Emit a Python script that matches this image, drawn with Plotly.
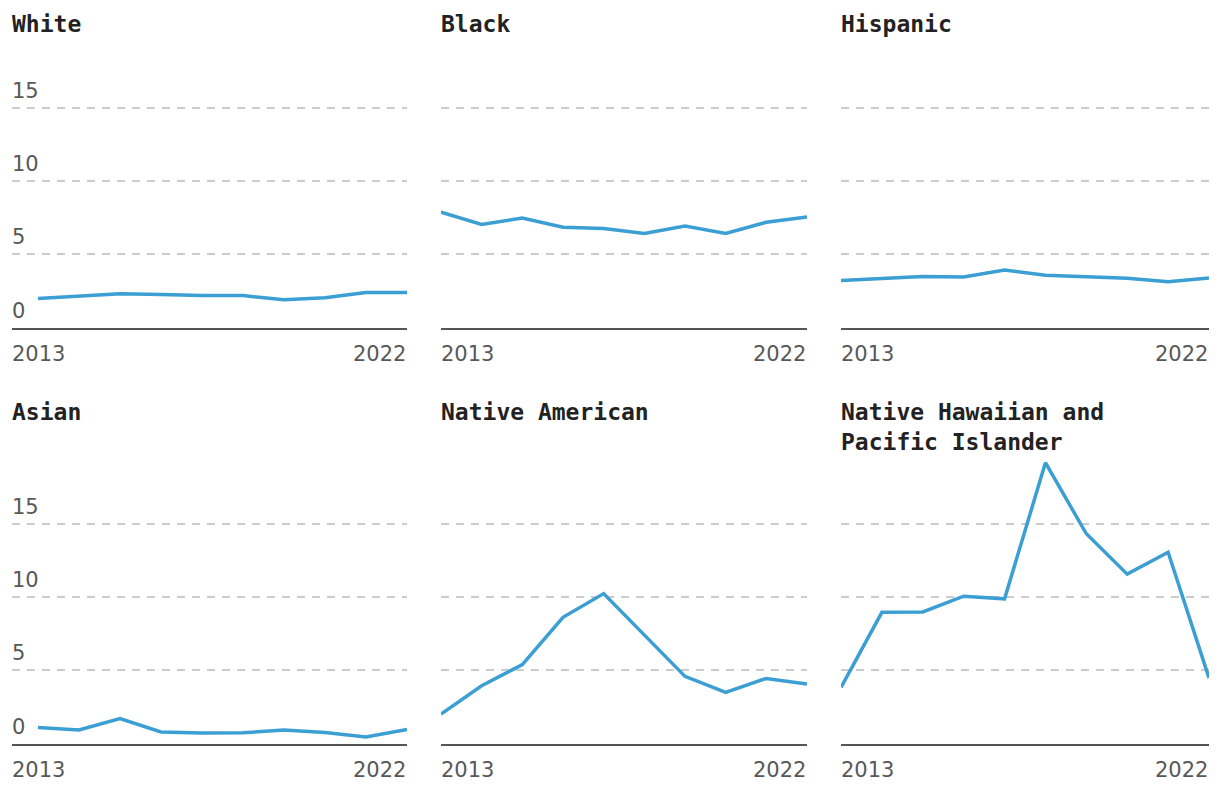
import plotly.graph_objects as go

years = list(range(2013, 2023))

groups = ["White", "Black", "Hispanic", "Asian", "Native American",
          "Native Hawaiian and<br>Pacific Islander"]

white = [1.98, 2.13, 2.31, 2.25, 2.18, 2.18, 1.90, 2.04, 2.40, 2.40]
black = [7.89, 7.05, 7.48, 6.86, 6.77, 6.43, 6.93, 6.43, 7.20, 7.55]
hispanic = [3.22, 3.36, 3.49, 3.45, 3.93, 3.58, 3.47, 3.36, 3.13, 3.38]
asian = [1.10, 0.93, 1.71, 0.79, 0.71, 0.73, 0.93, 0.75, 0.45, 0.96]
native_american = [2.01, 3.95, 5.39, 8.63, 10.25, 7.42, 4.59, 3.49, 4.45, 4.07]
nhpi = [3.84, 8.97, 9.00, 10.07, 9.89, 19.20, 14.34, 11.58, 13.08, 4.48]

series = [white, black, hispanic, asian, native_american, nhpi]

y_ticks = [0, 5, 10, 15]
x_labels = ["2013", "2022"]

# the page body adds an 8px margin, so the figure is drawn 8px in
OFF = 8
W, H = 1220 - OFF, 794 - OFF
LINE = "#3b9fd3"
TITLE_FONT = dict(family="DejaVu Sans Mono", size=23, color="#222222", weight="bold")
TICK_FONT = dict(family="DejaVu Sans", size=21, color="#585858")

# pixel layout (screen coordinates)
col_px = [(12, 407), (441, 807), (841, 1209)]
row_px = [(35, 327.5), (451, 743.5)]  # (top, baseline)
title_px = [24, 412]
xlabel_px = [354, 770]
YMAX = 20


def px_x(p):
    return (p - OFF) / W


def px_y(p):
    return 1 - (p - OFF) / H


fig = go.Figure()
annotations = []

for i, (name, vals) in enumerate(zip(groups, series)):
    r, c = divmod(i, 3)
    idx = "" if i == 0 else str(i + 1)
    xa, ya = "x" + idx, "y" + idx
    x0, x1 = col_px[c]
    top, base = row_px[r]
    if c == 0:
        pxy = (x1 - 38) / 9.0
        xr = [2013 - (38 - x0) / pxy, 2022]
    else:
        xr = [2013, 2022]
    fig.add_trace(go.Scatter(x=years, y=vals, mode="lines",
                             line=dict(color=LINE, width=3.5),
                             xaxis=xa, yaxis=ya, showlegend=False,
                             hoverinfo="x+y"))
    fig.layout["xaxis" + idx] = dict(
        domain=[px_x(x0), px_x(x1)], range=xr, anchor=ya,
        showgrid=False, zeroline=False, showticklabels=False, ticks="",
        showline=True, linecolor="#555555", linewidth=2, fixedrange=True)
    fig.layout["yaxis" + idx] = dict(
        domain=[px_y(base), px_y(top)], range=[0, YMAX], anchor=xa,
        tickvals=y_ticks[1:], showticklabels=False, ticks="",
        showgrid=True, gridcolor="#cccccc", gridwidth=1.5, griddash="8px,7px",
        zeroline=False, showline=False, fixedrange=True)

    multi = "<br>" in name
    annotations.append(dict(text="<b>%s</b>" % name, xref="paper", yref="paper",
                            x=px_x(x0), y=px_y(title_px[r]), xshift=-2,
                            xanchor="left", yanchor="top" if multi else "middle",
                            yshift=15 if multi else 0,
                            align="left", showarrow=False, font=TITLE_FONT))
    annotations.append(dict(text=x_labels[0], xref=xa + " domain", yref="paper",
                            x=0, y=px_y(xlabel_px[r]), xanchor="left", xshift=-2,
                            yanchor="middle", showarrow=False, font=TICK_FONT))
    annotations.append(dict(text=x_labels[1], xref=xa + " domain", yref="paper",
                            x=1, y=px_y(xlabel_px[r]), xanchor="right", xshift=1,
                            yanchor="middle", showarrow=False, font=TICK_FONT))
    if c == 0:
        for t in y_ticks:
            annotations.append(dict(text=str(t), xref=xa + " domain", yref=ya,
                                    x=0, y=t, xanchor="left", yanchor="bottom",
                                    xshift=-2, yshift=3, showarrow=False,
                                    font=TICK_FONT))

fig.update_layout(width=W, height=H, margin=dict(l=0, r=0, t=0, b=0),
                  paper_bgcolor="white", plot_bgcolor="white",
                  annotations=annotations)

fig.write_html("out.html")
